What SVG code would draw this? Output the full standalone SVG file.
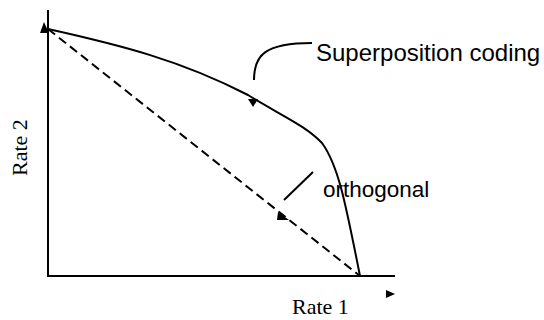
<svg xmlns="http://www.w3.org/2000/svg" width="544" height="320" viewBox="0 0 544 320">
<style>
.ln{fill:none;stroke:#000;stroke-width:2}
.ar{fill:#000;stroke:none}
.sans{font-family:"Liberation Sans",Arial,sans-serif;font-size:24px;fill:#000}
.serif{font-family:"Liberation Serif","Times New Roman",serif;font-size:22px;fill:#000}
</style>
<rect width="544" height="320" fill="#fff"/>
<g id="axes">
<path class="ln" d="M48,10 V276 H395"/>
<path class="ar" d="M44,22 L49,33 L40,33 Z"/>
<path class="ar" d="M386,290 L395,294 L386,298 Z"/>
</g>
<g id="connectors">
<path class="ln" d="M48,29 C120,45 180,60 248,95 C280,115 305,125 322,143 C338,165 345,200 360,276"/>
<path class="ar" d="M248,99 L258,99 L253,107 Z"/>
<path class="ln" stroke-dasharray="9,5" d="M48,29 L360,276"/>
<path class="ar" d="M278,212 L289,220 L277,220 Z"/>
<path class="ln" d="M254,80 C254,55 265,43 312,43"/>
<path class="ln" d="M284,200 L313,172"/>
</g>
<g id="labels">
<text class="sans" x="316" y="61">Superposition coding</text>
<text class="sans" x="323" y="197" style="font-size:22.5px">orthogonal</text>
<text class="serif" x="292" y="314">Rate 1</text>
<text class="serif" transform="translate(27,176) rotate(-90)">Rate 2</text>
</g>
</svg>
